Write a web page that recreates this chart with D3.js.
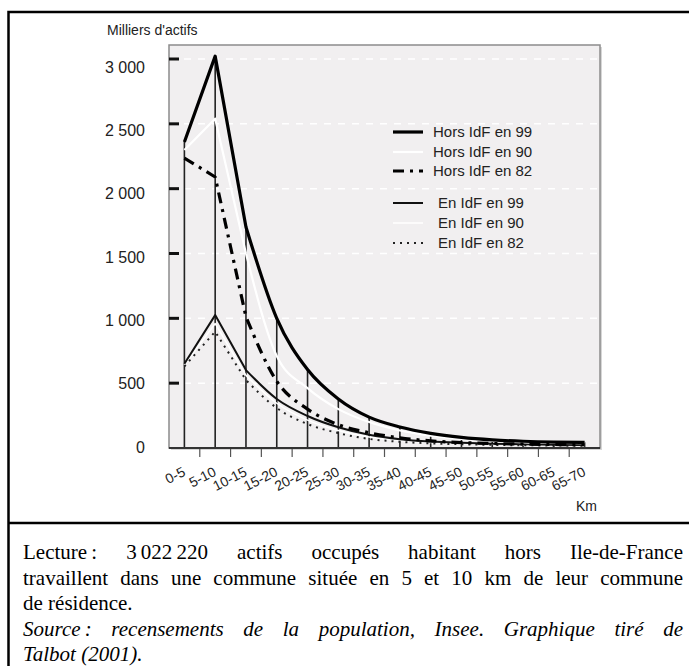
<!DOCTYPE html>
<html><head><meta charset="utf-8">
<script src="https://cdn.jsdelivr.net/npm/d3@7/dist/d3.min.js"></script>
<style>body{margin:0;background:#fff;} svg{display:block;}</style>
</head><body>
<svg id="c" width="689" height="666"></svg>
<script>
const categories = ["0-5","5-10","10-15","15-20","20-25","25-30","30-35","35-40","40-45","45-50","50-55","55-60","60-65","65-70"];
const horsIdF99 = [2360, 3022, 1705, 1000, 605, 378, 238, 162, 113, 82, 63, 52, 46, 44];
const horsIdF90 = [2298, 2540, 1500, 710, 462, 300, 200, 135, 95, 70, 55, 45, 40, 38];
const horsIdF82 = [2236, 2090, 1012, 515, 300, 180, 118, 78, 55, 42, 35, 30, 27, 25];
const enIdF99 = [650, 1025, 601, 378, 247, 160, 102, 68, 50, 40, 33, 28, 25, 23];
const enIdF90 = [640, 960, 560, 345, 215, 135, 85, 58, 43, 34, 28, 24, 22, 20];
const enIdF82 = [630, 897, 524, 308, 185, 115, 70, 48, 36, 29, 24, 21, 19, 17];
const yTicks = [0, 500, 1000, 1500, 2000, 2500, 3000];
const yTickLabels = ["0", "500", "1\u00A0000", "1\u00A0500", "2\u00A0000", "2\u00A0500", "3\u00A0000"];
const legendLabels = ["Hors IdF en 99", "Hors IdF en 90", "Hors IdF en 82", "En IdF en 99", "En IdF en 90", "En IdF en 82"];
const yTitle = "Milliers d'actifs";
const xTitle = "Km";
const noteLines = [
  {t: "Lecture\u202F: 3\u202F022\u202F220 actifs occupés habitant hors Ile-de-France", j: true, i: false},
  {t: "travaillent dans une commune située en 5 et 10 km de leur commune", j: true, i: false},
  {t: "de résidence.", j: false, i: false},
  {t: "Source\u202F: recensements de la population, Insee. Graphique tiré de", j: true, i: true},
  {t: "Talbot (2001).", j: false, i: true}
];

const svg = d3.select("#c");
const sans = "'Liberation Sans', Arial, sans-serif";
const serif = "'Liberation Serif', 'Times New Roman', serif";

// outer frame
svg.append("rect").attr("x", 8.5).attr("y", 12).attr("width", 720).attr("height", 720)
  .attr("fill", "none").attr("stroke", "#000").attr("stroke-width", 2.5);
svg.append("line").attr("x1", 8).attr("x2", 689).attr("y1", 523).attr("y2", 523)
  .attr("stroke", "#000").attr("stroke-width", 2.5);

const x = d3.scaleBand().domain(categories).range([169, 600]).padding(0);
const cx = d => x(d) + x.bandwidth() / 2;
const y = d3.scaleLinear().domain([0, 3000]).range([448, 59]);
const yLab = d3.scaleLinear().domain([0, 3000]).range([447, 67]);

// plot area
svg.append("rect").attr("x", 171).attr("y", 47).attr("width", 431).attr("height", 403)
  .attr("fill", "#d6d6d6");
svg.append("rect").attr("x", 169).attr("y", 45).attr("width", 431).attr("height", 403)
  .attr("fill", "#f1eff0").attr("stroke", "#8c8c8c").attr("stroke-width", 1.5);

// gridlines
svg.append("g").selectAll("line").data(yTicks.filter(d => d > 0)).join("line")
  .attr("x1", 170).attr("x2", 599).attr("y1", d => y(d)).attr("y2", d => y(d))
  .attr("stroke", "#fff").attr("stroke-width", 1.5).attr("stroke-dasharray", "7,7");

// y tick marks
svg.append("g").selectAll("line").data(yTicks.filter(d => d > 0)).join("line")
  .attr("x1", 169).attr("x2", 179).attr("y1", d => y(d)).attr("y2", d => y(d))
  .attr("stroke", "#111").attr("stroke-width", 3);

// y labels
svg.append("g").selectAll("text").data(yTicks).join("text")
  .attr("x", 145).attr("y", d => yLab(d)).attr("dy", "0.36em")
  .attr("text-anchor", "end").attr("font-family", sans).attr("font-size", 16).attr("fill", "#222")
  .text((d, i) => yTickLabels[i]);

svg.append("text").attr("x", 107).attr("y", 35).attr("font-family", sans).attr("font-size", 14)
  .attr("fill", "#222").text(yTitle);

// x tick marks at band boundaries
svg.append("g").selectAll("line").data(categories.slice(1)).join("line")
  .attr("x1", d => x(d)).attr("x2", d => x(d)).attr("y1", 448).attr("y2", 457)
  .attr("stroke", "#555").attr("stroke-width", 1.2);

// vertical lines
svg.append("g").selectAll("line").data(categories).join("line")
  .attr("x1", d => cx(d)).attr("x2", d => cx(d))
  .attr("y1", y(0)).attr("y2", (d, i) => y(horsIdF99[i]))
  .attr("stroke", "#222").attr("stroke-width", 1.6);

// baseline
svg.append("line").attr("x1", 169).attr("x2", 600).attr("y1", y(0)).attr("y2", y(0))
  .attr("stroke", "#333").attr("stroke-width", 2);

// x labels
svg.append("g").selectAll("text").data(categories).join("text")
  .attr("transform", d => `translate(${cx(d) + 2},475) rotate(-27)`)
  .attr("text-anchor", "end").attr("font-family", sans).attr("font-size", 14).attr("fill", "#222")
  .text(d => d);

svg.append("text").attr("x", 597).attr("y", 511).attr("text-anchor", "end")
  .attr("font-family", sans).attr("font-size", 14).attr("fill", "#222").text(xTitle);

// series
const styles = [
  {v: horsIdF99, stroke: "#000", w: 3.2, dash: null},
  {v: horsIdF90, stroke: "#fff", w: 2.2, dash: null},
  {v: horsIdF82, stroke: "#000", w: 3.2, dash: "11,6,3,6"},
  {v: enIdF99, stroke: "#111", w: 2, dash: null},
  {v: enIdF90, stroke: "#fff", w: 1.5, dash: null},
  {v: enIdF82, stroke: "#222", w: 2, dash: "2,5"}
];
const lin = d3.line().curve(d3.curveLinear);
const mono = d3.line().curve(d3.curveMonotoneX);
function pathFor(vals) {
  const pts = categories.map((c, i) => [cx(c), y(vals[i])]);
  return lin(pts.slice(0, 3)) + mono(pts.slice(2)).replace(/^M[^CL]*/, "");
}
const order = [4, 5, 3, 1, 2, 0];
order.forEach(k => {
  const s = styles[k];
  svg.append("path").attr("d", pathFor(s.v)).attr("fill", "none")
    .attr("stroke", s.stroke).attr("stroke-width", s.w)
    .attr("stroke-linejoin", "round")
    .attr("stroke-dasharray", s.dash);
});

// legend
const legY = [132, 152, 171, 203, 223, 243];
const legX = [433, 433, 433, 438, 438, 438];
legendLabels.forEach((lab, i) => {
  const s = styles[i];
  svg.append("line").attr("x1", 393).attr("x2", 423).attr("y1", legY[i]).attr("y2", legY[i])
    .attr("stroke", s.stroke).attr("stroke-width", s.w).attr("stroke-dasharray", s.dash);
  svg.append("text").attr("x", legX[i]).attr("y", legY[i]).attr("dy", "0.36em")
    .attr("font-family", sans).attr("font-size", 15).attr("fill", "#222").text(lab);
});

// note text
const x0 = 23, x1 = 683;
const baselines = [559, 584.5, 610, 635.5, 660.5];
noteLines.forEach((ln, li) => {
  const t = svg.append("text").attr("y", baselines[li]).attr("font-family", serif)
    .attr("font-size", 21).attr("fill", "#000").attr("font-style", ln.i ? "italic" : "normal");
  const words = ln.t.split(" ");
  const spans = words.map(w => t.append("tspan").attr("x", x0).text(w));
  const widths = spans.map(s => s.node().getComputedTextLength());
  const total = d3.sum(widths);
  const spaceW = ln.j ? (x1 - x0 - total) / (words.length - 1) : 21 * 0.25;
  let cur = x0;
  spans.forEach((s, i) => { s.attr("x", cur); cur += widths[i] + spaceW; });
});
</script>
</body></html>
